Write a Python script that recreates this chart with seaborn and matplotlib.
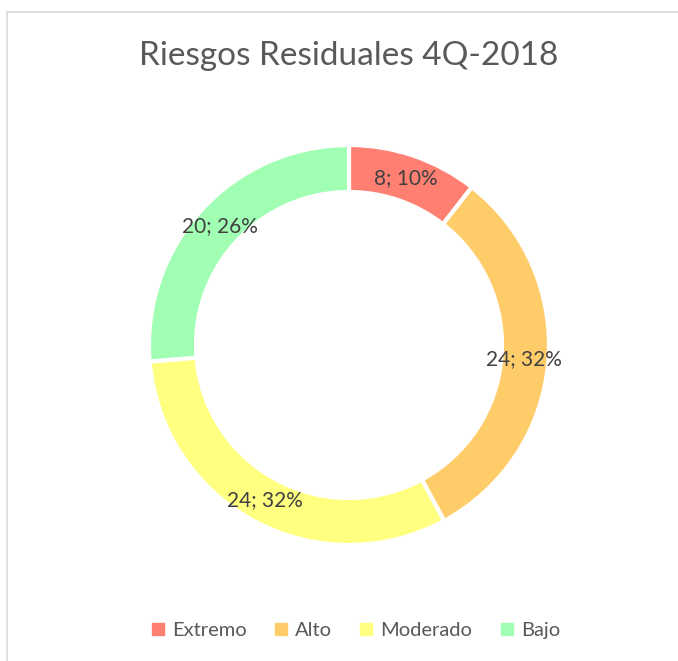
import matplotlib
matplotlib.use("Agg")
import matplotlib.pyplot as plt
from matplotlib.lines import Line2D
from matplotlib.patches import Rectangle
import numpy as np
import seaborn as sns

categories = ["Extremo", "Alto", "Moderado", "Bajo"]
values = [8, 24, 24, 20]
percents = ["10%", "32%", "32%", "26%"]
colors_hex = ["#FF8072", "#FFCC6A", "#FFFF80", "#A0FFB2"]
title = "Riesgos Residuales 4Q-2018"

sns.set_theme(style="white")
plt.rcParams["font.family"] = ["Lato", "DejaVu Sans"]
palette = sns.color_palette(colors_hex)

W, H = 678, 661
fig = plt.figure(figsize=(W / 100, H / 100), dpi=100)
fig.patch.set_facecolor("white")

# chart border
fig.patches.append(Rectangle((7 / W, -0.1), 1.2, (H - 12) / H + 0.1,
                             transform=fig.transFigure, fill=False,
                             edgecolor="#D9D9D9", linewidth=1.2))

cx, cy, R = 349, 345, 200
ax = fig.add_axes([(cx - R) / W, (H - cy - R) / H, 2 * R / W, 2 * R / H])
wedges, _ = ax.pie(values, colors=palette, startangle=90, counterclock=False,
                   radius=1.0, wedgeprops=dict(width=0.235, edgecolor="white",
                                               linewidth=3))
labels = [f"{v}; {p}" for v, p in zip(values, percents)]
total = sum(values)
start = 0.0
for v, lab in zip(values, labels):
    mid = start + v / total * 360 / 2
    start += v / total * 360
    ang = np.deg2rad(90 - mid)
    r = 0.88
    ax.text(r * np.cos(ang), r * np.sin(ang), lab, ha="center", va="center",
            fontsize=15, color="#404040")
ax.set_xlim(-1, 1)
ax.set_ylim(-1, 1)
ax.set_aspect("equal")
ax.axis("off")

fig.text(349 / W, 1 - 56 / H, title, ha="center", va="center",
         fontsize=24, color="#595959")

handles = [Line2D([0], [0], marker="s", linestyle="none", markersize=8,
                  markerfacecolor=c, markeredgecolor=c) for c in palette]
fig.legend(handles, categories, loc="center", bbox_to_anchor=(354 / W, 1 - 630 / H),
           ncol=4, frameon=False, fontsize=14.5, labelcolor="#595959",
           handletextpad=0.2, columnspacing=1.2, handlelength=1.0)

fig.savefig("out.png", dpi=100, facecolor="white")
